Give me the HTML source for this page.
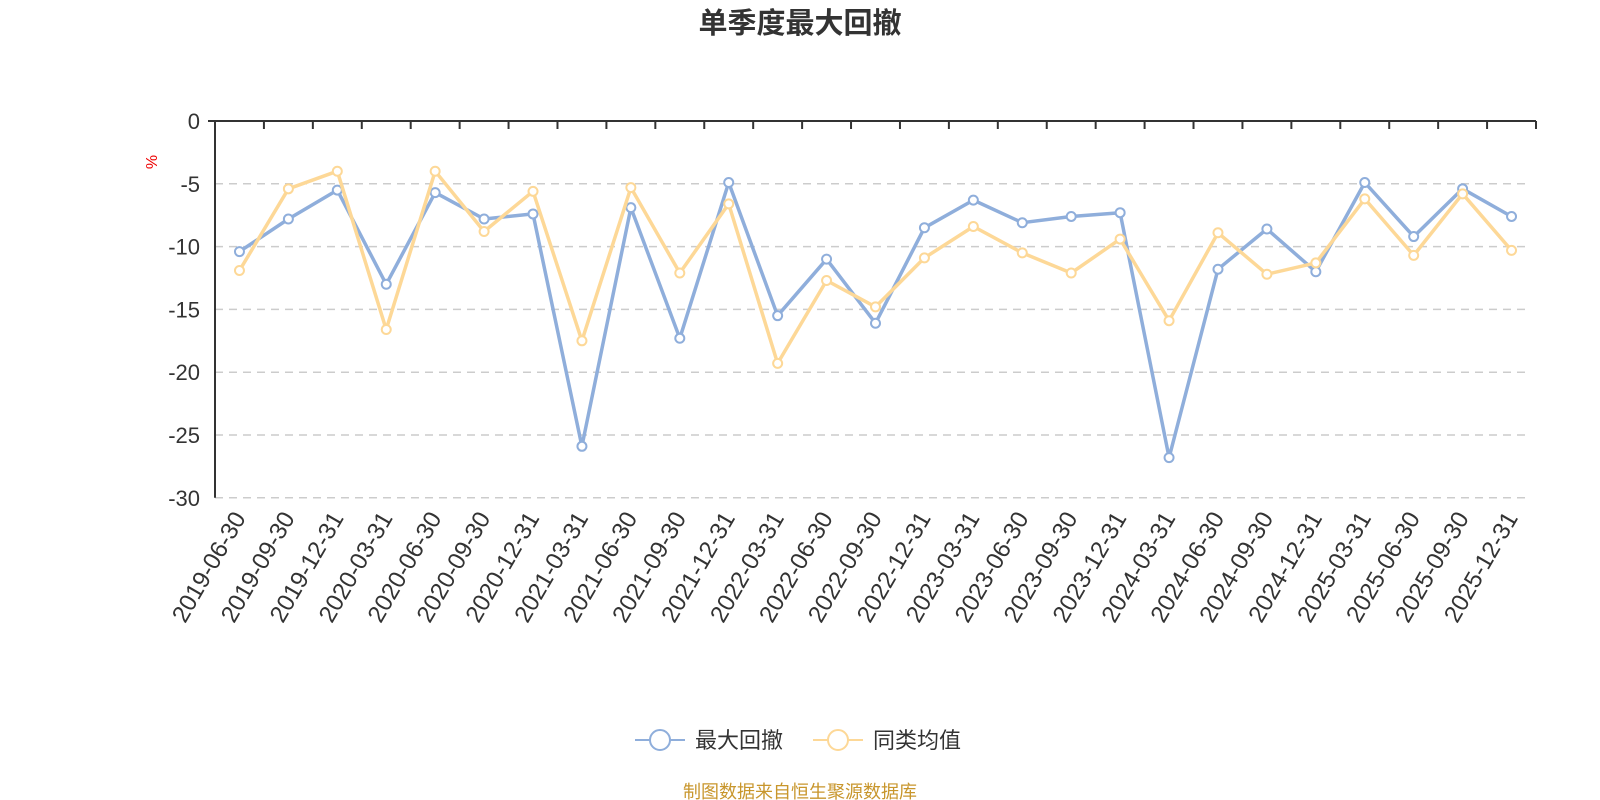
<!DOCTYPE html>
<html><head><meta charset="utf-8"><style>
html,body{margin:0;padding:0;background:#fff;}
svg{display:block;font-family:"Liberation Sans","Noto Sans CJK SC",sans-serif;}
</style></head><body>
<svg id="c" width="1600" height="800" viewBox="0 0 1600 800" xmlns="http://www.w3.org/2000/svg">
<text x="800" y="33" text-anchor="middle" font-size="29" font-weight="bold" fill="#333">单季度最大回撤</text>
<text transform="translate(157,162) rotate(-90)" text-anchor="middle" font-size="16" fill="#e00">%</text>
<g id="grid"></g>
<g id="series"></g>
<g id="legend">
<line x1="635" y1="740" x2="685" y2="740" stroke="#8faedb" stroke-width="2"/>
<circle cx="660" cy="740" r="10" fill="#fff" stroke="#8faedb" stroke-width="2"/>
<text x="695" y="748" font-size="22" fill="#333">最大回撤</text>
<line x1="813" y1="740" x2="863" y2="740" stroke="#fdd897" stroke-width="2"/>
<circle cx="838" cy="740" r="10" fill="#fff" stroke="#fdd897" stroke-width="2"/>
<text x="873" y="748" font-size="22" fill="#333">同类均值</text>
</g>
<text x="800" y="798" text-anchor="middle" font-size="18" fill="#c8962c">制图数据来自恒生聚源数据库</text>
</svg>
<script>
var ns="http://www.w3.org/2000/svg";
function el(t,a,p,txt){var e=document.createElementNS(ns,t);for(var k in a)e.setAttribute(k,a[k]);if(txt!==undefined)e.textContent=txt;p.appendChild(e);return e;}
var L=215,R=1536,Y0=121,S=12.56;
var labels=["2019-06-30","2019-09-30","2019-12-31","2020-03-31","2020-06-30","2020-09-30","2020-12-31","2021-03-31","2021-06-30","2021-09-30","2021-12-31","2022-03-31","2022-06-30","2022-09-30","2022-12-31","2023-03-31","2023-06-30","2023-09-30","2023-12-31","2024-03-31","2024-06-30","2024-09-30","2024-12-31","2025-03-31","2025-06-30","2025-09-30","2025-12-31"];
var blue=[-10.4,-7.8,-5.5,-13.0,-5.7,-7.8,-7.4,-25.9,-6.9,-17.3,-4.9,-15.5,-11.0,-16.1,-8.5,-6.3,-8.1,-7.6,-7.3,-26.8,-11.8,-8.6,-12.0,-4.9,-9.2,-5.4,-7.6];
var yel=[-11.9,-5.4,-4.0,-16.6,-4.0,-8.8,-5.6,-17.5,-5.3,-12.1,-6.6,-19.3,-12.7,-14.8,-10.9,-8.4,-10.5,-12.1,-9.4,-15.9,-8.9,-12.2,-11.3,-6.2,-10.7,-5.8,-10.3];
var n=27,w=(R-L)/n;
var g=document.getElementById("grid"),s=document.getElementById("series");
function y(v){return Y0-v*S;}
function x(i){return L+w*(i+0.5);}
for(var k=1;k<=6;k++){var yy=y(-5*k);el("line",{x1:L,x2:R-6,y1:yy,y2:yy,stroke:"#ccc","stroke-width":1.5,"stroke-dasharray":"8,6"},g);}
for(var k=0;k<=6;k++){el("text",{x:200,y:y(-5*k)+8,"text-anchor":"end","font-size":22,fill:"#333"},g,k?("-"+5*k):"0");}
el("line",{x1:L,x2:L,y1:Y0,y2:y(-30),stroke:"#333","stroke-width":2},g);
el("line",{x1:L-7,x2:R,y1:Y0,y2:Y0,stroke:"#333","stroke-width":2},g);
for(var i=1;i<=n;i++){var xx=L+w*i;el("line",{x1:xx,x2:xx,y1:Y0,y2:Y0+8,stroke:"#333","stroke-width":2},g);}
for(var i=0;i<n;i++){var xx=x(i)+7,yy=y(-30)+20;el("text",{transform:"translate("+xx+","+yy+") rotate(-60)","text-anchor":"end","font-size":24,fill:"#333"},g,labels[i]);}
function draw(d,c){var p="";for(var i=0;i<n;i++)p+=(i?"L":"M")+x(i).toFixed(1)+","+y(d[i]).toFixed(1);
el("path",{d:p,fill:"none",stroke:c,"stroke-width":3.5,"stroke-linejoin":"round"},s);
for(var i=0;i<n;i++)el("circle",{cx:x(i),cy:y(d[i]),r:4.5,fill:"#fff",stroke:c,"stroke-width":2},s);}
draw(blue,"#8faedb");draw(yel,"#fdd897");
</script>
</body></html>
